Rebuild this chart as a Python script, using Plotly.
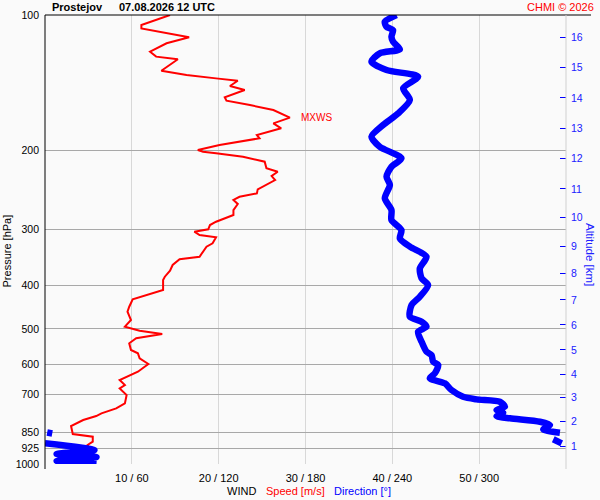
import numpy as np
import plotly.graph_objects as go

# Wind speed profile (red) - pressure [hPa] and speed [m/s]
pressure_speed = [100, 105.3, 107.1, 109.8, 112.1, 115.6, 120.7, 123.8, 125.5, 133.1,
                  136.0, 138.4, 140.1, 143.9, 146.9, 152.5, 155.2, 158.7, 162.8, 169.3,
                  174.3, 178.8, 185.0, 188.2, 194.7, 199.8, 201.6, 203.2, 206.8, 212.2,
                  219.5, 223.4, 228.4, 233.1, 239.2, 244.5, 249.6, 254.0, 258.2, 263.6,
                  271.9, 278.9, 288.7, 293.6, 300.1, 303.8, 309.0, 312.7, 322.5, 328.1,
                  345.4, 350.0, 360.4, 371.1, 382.7, 389.3, 409.8, 418.3, 429.8, 446.4,
                  458.0, 477.9, 494.5, 504.8, 513.4, 524.8, 538.5, 557.3, 566.9, 581.6,
                  598.9, 623.0, 650.1, 667.1, 678.5, 702.2, 732.7, 751.7, 771.3, 782.0,
                  798.2, 823.2, 857.6, 869.5, 892.0, 907.3, 939.2, 963.2, 988.3, 996.4]
wind_speed = [14.4, 11.1, 11.1, 14.0, 16.6, 14.0, 12.1, 12.8, 15.3, 13.4,
              16.3, 19.7, 22.2, 21.3, 23.0, 20.7, 20.9, 23.6, 26.3, 28.2,
              26.3, 27.2, 24.4, 24.7, 20.1, 17.6, 18.2, 19.7, 22.8, 25.3,
              25.5, 26.8, 26.1, 26.5, 25.5, 24.5, 24.4, 22.4, 21.7, 22.2,
              21.7, 21.7, 19.7, 19.0, 18.8, 17.2, 17.8, 19.7, 19.3, 18.6,
              17.8, 15.5, 14.7, 14.4, 13.8, 13.6, 13.6, 12.1, 10.1, 9.7,
              9.5, 9.9, 9.2, 10.9, 13.5, 10.5, 9.7, 9.9, 10.7, 10.9,
              11.9, 10.7, 8.6, 9.2, 8.6, 9.4, 9.2, 8.2, 6.5, 5.9,
              4.4, 3.0, 3.2, 5.5, 5.5, 4.9, 5.3, 4.4, 4.2, 3.0]

# Wind direction profile (blue) - None breaks the line where it wraps 360 -> 0
pressure_dir = [100, 103.5, 106.2, 108.0, 111.8, 114.7, 119.2, 121.7, 127.1, 132.6,
                137.2, 145.6, 154.6, 165.6, 175.8, 186.6, 196.5, 208.5, 217.7, 229.1,
                239.1, 256.0, 271.9, 286.1, 301.2, 314.3, 328.1, 345.4, 366.6, 385.9,
                399.6, 424.1, 442.4, 469.8, 482.1, 494.5, 507.4, 534.1, 562.2, 571.8,
                591.9, 601.9, 628.1, 644.4, 661.3, 684.4, 708.4, 717.8, 726.7, 745.4,
                758.0, 768.7, 782.0, 791.2, 805.2, 818.9, 837.2, 851.9, None,
                851.1, 855.4, None, 881.0, 899.4, None,
                899.4, 930.7, 950.0, 964.8, 984.8, 1000]
wind_dir = [242.9, 234.8, 236.0, 240.5, 239.4, 240.5, 245.2, 231.3, 225.6, 236.0,
            257.8, 247.5, 252.1, 244.0, 233.6, 225.6, 231.3, 246.3, 239.4, 236.0,
            238.3, 234.8, 239.4, 239.4, 246.3, 245.2, 252.1, 263.6, 259.0, 260.2,
            264.7, 259.0, 253.3, 252.1, 260.2, 263.6, 257.8, 260.2, 263.6, 267.1,
            268.2, 271.7, 269.4, 265.9, 276.3, 280.9, 288.9, 298.2, 314.3, 317.8,
            312.0, 316.6, 312.0, 321.3, 342.0, 348.9, 344.3, 355.8, None,
            1.5, 5.0, None, 351.2, 357.0, None,
            0.0, 34.2, 8.0, 35.6, 8.0, 35.6]

# Axis ticks
pressure_ticks = [100, 200, 300, 400, 500, 600, 700, 850, 925, 1000]
speed_ticks = [10, 20, 30, 40, 50, 60]
speed_labels = ["10 / 60", "20 / 120", "30 / 180", "40 / 240", "50 / 300", ""]
altitude_km = [1, 2, 3, 4, 5, 6, 7, 8, 9, 10, 11, 12, 13, 14, 15, 16]
altitude_pressure = [915, 805, 712, 632, 557, 490, 431, 377, 328, 282,
                     244, 209, 179, 153, 131, 112]

# pixel helpers for the plot box (45.5..566 x, 15..464 y)
def px(x):
    return (x - 45.5) / 520.5

def py(y):
    return (464 - y) / 449

fig = go.Figure()

fig.add_trace(go.Scatter(x=wind_dir, y=pressure_dir, xaxis="x2", yaxis="y", mode="lines",
                         line=dict(color="#0000ff", width=6.5, shape="spline", smoothing=0.7),
                         connectgaps=False, hoverinfo="skip"))
fig.add_trace(go.Scatter(x=wind_speed, y=pressure_speed, mode="lines",
                         line=dict(color="#ff0000", width=2), hoverinfo="skip"))
# invisible trace so the altitude axis is drawn
fig.add_trace(go.Scatter(x=[None] * len(altitude_pressure), y=altitude_pressure, yaxis="y2",
                         mode="markers", marker=dict(opacity=0), hoverinfo="skip"))

# max wind speed marker
i_max = int(np.argmax(wind_speed))
p_max = pressure_speed[i_max]
s_max = wind_speed[i_max]

fig.update_layout(
    width=600, height=500,
    margin=dict(l=45, r=34, t=15, b=36, autoexpand=False),
    paper_bgcolor="#fafafa", plot_bgcolor="#fafafa",
    showlegend=False,
    font=dict(family="Arial, Liberation Sans, sans-serif", size=11, color="black"),
    xaxis=dict(range=[0, 60], tickvals=speed_ticks, ticktext=speed_labels, automargin=False,
               showgrid=True, gridcolor="#d8d8d8", gridwidth=1, zeroline=False,
               showline=False, ticks="", tickfont=dict(size=11), ticklabelstandoff=6),
    xaxis2=dict(range=[0, 360], overlaying="x", visible=False),
    yaxis=dict(type="log", range=[3, 2], tickvals=pressure_ticks, automargin=False,
               ticktext=[str(p) for p in pressure_ticks],
               showgrid=True, gridcolor="#a8a8a8", gridwidth=1, zeroline=False,
               showline=False, ticks="", tickfont=dict(size=10.5), ticklabelstandoff=5),
    yaxis2=dict(type="log", range=[3, 2], overlaying="y", side="right", automargin=False,
                tickvals=altitude_pressure, ticktext=[str(a) for a in altitude_km],
                ticks="inside", ticklen=6, tickcolor="#0000ff", tickwidth=1,
                tickfont=dict(size=10.5, color="#2020ff"), showgrid=False,
                zeroline=False, showline=False, ticklabelstandoff=4),
)

# frame lines and MXWS ticks
shapes = [
    dict(type="line", xref="paper", yref="paper", x0=0, x1=px(591), y0=1, y1=1,
         line=dict(color="black", width=1)),
    dict(type="line", xref="paper", yref="paper", x0=0, x1=0, y0=py(469), y1=1,
         line=dict(color="black", width=1)),
    dict(type="line", xref="paper", yref="paper", x0=1, x1=1, y0=py(469), y1=1,
         line=dict(color="#d0d0d0", width=1)),
    dict(type="line", xref="paper", yref="y", x0=px(43), x1=px(56),
         y0=np.log10(p_max), y1=np.log10(p_max), line=dict(color="#ff0000", width=1)),
    dict(type="line", xref="paper", yref="y", x0=px(555), x1=px(568),
         y0=np.log10(p_max), y1=np.log10(p_max), line=dict(color="#ff0000", width=1)),
]
fig.update_layout(shapes=shapes)

annotations = [
    dict(text="MXWS", xref="x", yref="y", x=s_max, y=np.log10(p_max), xanchor="left",
         xshift=9, showarrow=False, font=dict(size=10, color="#ff0000")),
    dict(text="<b>Prostejov</b>", x=px(50), y=py(7), xanchor="left"),
    dict(text="<b>07.08.2026 12 UTC</b>", x=px(117), y=py(7), xanchor="left"),
    dict(text="CHMI © 2026", x=px(596), y=py(7), xanchor="right", font=dict(size=11, color="#ff0000")),
    dict(text="Pressure [hPa]", x=px(8), y=py(251), textangle=-90, xanchor="center"),
    dict(text="Altitude [km]", x=px(590), y=py(254), textangle=90, xanchor="center",
         font=dict(size=11.5, color="#2020ff")),
    dict(text="WIND", x=px(225), y=py(491), xanchor="left"),
    dict(text="Speed [m/s]", x=px(264), y=py(491), xanchor="left", font=dict(color="#ff0000")),
    dict(text="Direction [°]", x=px(332), y=py(491), xanchor="left", font=dict(color="#0000ff")),
]
for a in annotations:
    a.setdefault("xref", "paper")
    a.setdefault("yref", "paper")
    a.setdefault("showarrow", False)
    a.setdefault("yanchor", "middle")
    fig.add_annotation(**a)

# the page body has an 8px default margin; drop it so the chart sits at 0,0
fig.write_html("out.html", config={"displayModeBar": False},
               post_script="document.body.style.margin='0';")
